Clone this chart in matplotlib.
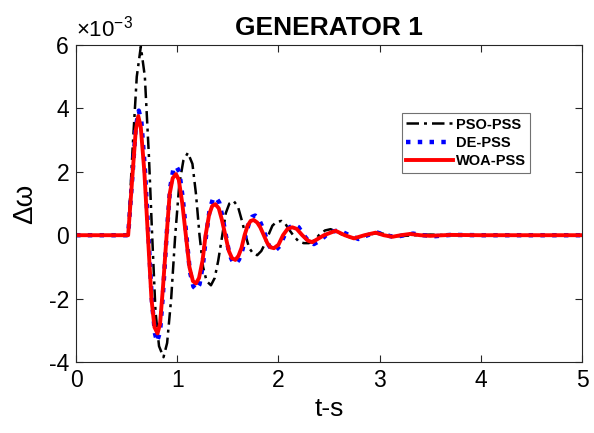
import matplotlib
matplotlib.use("Agg")
import matplotlib.pyplot as plt

plt.rcParams['font.family'] = ['Liberation Sans', 'DejaVu Sans']
plt.rcParams['axes.unicode_minus'] = False
plt.rcParams['mathtext.fontset'] = 'custom'
plt.rcParams['mathtext.rm'] = 'Liberation Sans'

# speed deviation of generator 1, values in units of 1e-3
t_pso = [0, 0.515, 0.56, 0.60, 0.64, 0.68, 0.72, 0.752, 0.785, 0.82, 0.864, 0.90, 0.94,
         0.98, 1.02, 1.06, 1.105, 1.15, 1.185, 1.22, 1.255, 1.29, 1.333, 1.37, 1.405,
         1.445, 1.48, 1.515, 1.557, 1.60, 1.635, 1.675, 1.71, 1.75, 1.79, 1.83, 1.865,
         1.90, 1.94, 1.98, 2.03, 2.07, 2.10, 2.145, 2.20, 2.25, 2.30, 2.36, 2.40, 2.46,
         2.515, 2.58, 2.64, 2.72, 2.78, 2.87, 2.96, 3.0, 3.1, 3.2, 3.35, 3.5, 3.7, 5.0]
w_pso = [0, 0, 2.8, 5.0, 5.95, 5.0, 2.5, 0, -2.4, -3.5, -3.85, -3.4, -2.0,
         0, 1.6, 2.35, 2.6, 2.25, 1.3, 0, -1.0, -1.45, -1.58, -1.35, -0.8,
         0, 0.7, 1.0, 1.08, 0.9, 0.5, 0, -0.4, -0.58, -0.63, -0.5, -0.28,
         0, 0.3, 0.42, 0.45, 0.35, 0.2, 0, -0.2, -0.25, -0.25, -0.15, 0, 0.15,
         0.19, 0.1, 0, -0.08, -0.1, 0, 0.06, 0.07, 0, -0.03, 0, 0.02, 0, 0]

t_de = [0, 0.515, 0.56, 0.59, 0.62, 0.645, 0.68, 0.715, 0.75, 0.78, 0.80, 0.83, 0.86,
        0.895, 0.93, 0.96, 0.99, 1.02, 1.055, 1.09, 1.125, 1.16, 1.19, 1.22, 1.255,
        1.285, 1.32, 1.35, 1.38, 1.415, 1.445, 1.48, 1.515, 1.55, 1.58, 1.61, 1.645,
        1.675, 1.71, 1.74, 1.77, 1.805, 1.835, 1.87, 1.905, 1.935, 1.97, 2.01, 2.06,
        2.11, 2.16, 2.20, 2.25, 2.30, 2.35, 2.42, 2.47, 2.54, 2.60, 2.70, 2.79, 2.88,
        2.97, 3.06, 3.15, 3.24, 3.33, 3.43, 3.55, 3.7, 4.0, 5.0]
w_de = [0, 0, 2.0, 3.4, 3.93, 3.6, 2.1, 0, -2.1, -3.1, -3.36, -3.05, -1.8,
        0, 1.5, 2.05, 2.18, 2.0, 1.15, 0, -1.15, -1.62, -1.72, -1.55, -0.9,
        0, 0.8, 1.12, 1.2, 1.03, 0.6, 0, -0.6, -0.85, -0.9, -0.77, -0.45,
        0, 0.4, 0.58, 0.62, 0.52, 0.3, 0, -0.32, -0.46, -0.48, -0.35, 0,
        0.25, 0.33, 0.25, 0, -0.2, -0.28, -0.15, 0, 0.12, 0.15, 0, -0.12, 0,
        0.09, 0, -0.06, 0, 0.05, 0, -0.03, 0.01, 0, 0]

t_woa = [0, 0.515, 0.56, 0.59, 0.615, 0.64, 0.675, 0.71, 0.745, 0.775, 0.805, 0.83,
         0.86, 0.895, 0.925, 0.955, 0.987, 1.015, 1.05, 1.085, 1.12, 1.155, 1.185,
         1.215, 1.25, 1.28, 1.315, 1.345, 1.376, 1.41, 1.44, 1.475, 1.51, 1.54, 1.574,
         1.605, 1.635, 1.665, 1.695, 1.725, 1.755, 1.79, 1.82, 1.855, 1.89, 1.92, 1.955,
         2.0, 2.045, 2.09, 2.136, 2.18, 2.235, 2.29, 2.334, 2.45, 2.564, 2.655, 2.746,
         2.85, 2.96, 3.04, 3.125, 3.21, 3.3, 3.4, 3.5, 3.7, 4.0, 5.0]
w_woa = [0, 0, 2.0, 3.3, 3.76, 3.4, 2.0, 0, -2.0, -2.9, -3.1, -2.8,
         -1.6, 0, 1.3, 1.8, 1.93, 1.75, 1.0, 0, -1.0, -1.45, -1.52,
         -1.35, -0.8, 0, 0.65, 0.92, 0.98, 0.85, 0.5, 0, -0.5, -0.72, -0.78,
         -0.65, -0.4, 0, 0.3, 0.45, 0.48, 0.4, 0.25, 0, -0.25, -0.38, -0.41,
         -0.3, 0, 0.2, 0.25, 0.2, 0, -0.17, -0.22, 0, 0.14, 0, -0.1,
         0, 0.08, 0, -0.05, 0, 0.04, 0, -0.02, 0.01, 0, 0]

scale = 1e-3

fig = plt.figure(figsize=(5.94, 4.33), dpi=100)
ax = fig.add_axes([0.128, 0.164, 0.852, 0.732])

ax.plot(t_pso, [v * scale for v in w_pso], color='black', linestyle=(0, (5, 2, 1.2, 2)),
        linewidth=1.8, label='PSO-PSS')
ax.plot(t_de, [v * scale for v in w_de], color='blue', linestyle=':', linewidth=3.2, label='DE-PSS')
ax.plot(t_woa, [v * scale for v in w_woa], color='red', linestyle='-', linewidth=2.8, label='WOA-PSS')

ax.set_xlim(0, 5)
ax.set_ylim(-4e-3, 6e-3)
ax.set_xticks([0, 1, 2, 3, 4, 5])
ax.set_yticks([-4e-3, -2e-3, 0, 2e-3, 4e-3, 6e-3])
ax.set_yticklabels(['-4', '-2', '0', '2', '4', '6'])
ax.tick_params(direction='in', length=5, width=0.8, top=True, right=True,
               labelsize=16.5, colors='0.15', labelcolor='black', pad=5)
for s in ax.spines.values():
    s.set_color('0.15')
    s.set_linewidth(0.8)

ax.text(0.0, 1.012, r'$\times\mathregular{10^{-3}}$', transform=ax.transAxes,
        fontsize=16, ha='left', va='bottom')
ax.set_title('GENERATOR 1', fontsize=19, fontweight='bold', pad=7)
ax.set_xlabel('t-s', fontsize=19, labelpad=4)
ax.set_ylabel('Δω', fontsize=20, labelpad=8)

leg = ax.legend(loc='upper right', bbox_to_anchor=(0.897, 0.785),
                prop={'weight': 'bold', 'size': 10.5}, frameon=True, fancybox=False,
                edgecolor='0.3', handlelength=3.2, borderpad=0.3, labelspacing=0.3,
                handletextpad=0.2, borderaxespad=0)
leg.get_frame().set_linewidth(0.8)

fig.savefig('out.png', dpi=100)
